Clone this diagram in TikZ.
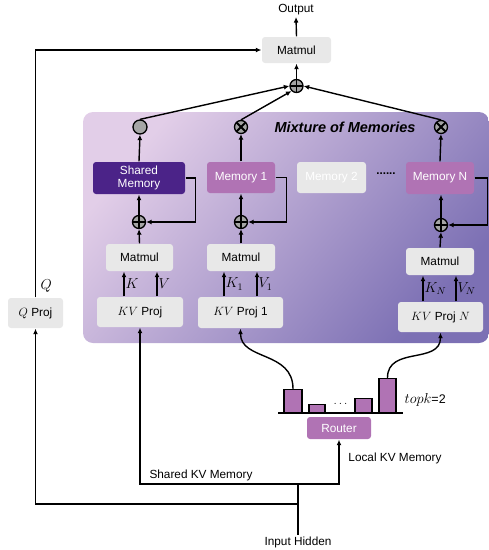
\documentclass[tikz,border=0pt]{standalone}
\usepackage{fontspec}
\setmainfont{Liberation Sans}
\usetikzlibrary{arrows.meta,calc}
\definecolor{boxgray}{RGB}{232,232,232}
\definecolor{orchidc}{RGB}{176,115,180}
\definecolor{darkpur}{RGB}{75,35,136}
\definecolor{panelA}{RGB}{226,206,232}
\definecolor{panelB}{RGB}{124,112,180}
\definecolor{circgray}{RGB}{165,165,165}
\newcommand{\mth}[1]{{\fontsize{12.5}{14}\selectfont$#1$}}
\newcommand{\mthb}[1]{{\fontsize{14.5}{16}\selectfont$#1$}}
\tikzset{
  arr/.style={-{Latex[length=5.5pt,width=5pt]}},
  gbox/.style={draw=none,fill=boxgray,rounded corners=3pt,inner sep=0pt,font=\fontsize{11.8}{13.5}\selectfont},
  pbox/.style={gbox,fill=orchidc,text=white},
  opl/.style={circle,draw,fill=circgray,line width=1.3pt,minimum size=13pt,inner sep=0pt,
    path picture={\draw[line width=1.8pt] (path picture bounding box.north) -- (path picture bounding box.south)
      (path picture bounding box.west) -- (path picture bounding box.east);}},
  otm/.style={circle,draw,fill=circgray,line width=1.3pt,minimum size=13pt,inner sep=0pt,
    path picture={\draw[line width=1.8pt] (path picture bounding box.north west) -- (path picture bounding box.south east)
      (path picture bounding box.south west) -- (path picture bounding box.north east);}},
  barbox/.style={draw,fill=orchidc,line width=1.2pt,minimum width=18pt,inner sep=0pt,anchor=south},
  lbl/.style={font=\fontsize{11.8}{13.5}\selectfont,inner sep=1pt},
}
\begin{document}
\begin{tikzpicture}[x=1pt,y=-1pt,line width=1.4pt]
\useasboundingbox (0,0) rectangle (489,550);
% panel
\shade[top color=panelA,bottom color=panelB,shading angle=50,rounded corners=10pt] (83,112) rectangle (489,343);

% top part
\node[lbl] (out) at (296,10) {Output};
\node[gbox,minimum width=69pt,minimum height=26pt] (mtop) at (296.5,50) {Matmul};
\node[opl] (pl0) at (296.5,86) {};
\draw[arr] (mtop.north) -- (out.south);
\draw[arr] (pl0.north) -- (mtop.south);

% mixture circles
\node[circle,draw,fill=circgray,line width=1.3pt,minimum size=14pt,inner sep=0pt] (cS) at (140,127) {};
\node[otm] (cx1) at (241,127) {};
\node[otm] (cxN) at (441,127) {};
\node[font=\fontsize{14.5}{16}\selectfont\bfseries\itshape] (mix) at (345,127) {Mixture of Memories};
\draw[arr] (cS.north) -- (pl0.west);
\draw[arr] (cx1.north) -- (pl0.south west);
\draw[arr] (cxN.north) -- (pl0.east);

% memories
\node[gbox,fill=darkpur,text=white,minimum width=92pt,minimum height=32pt,align=center] (memS) at (139,178) {Shared\\[-1pt]Memory};
\node[pbox,minimum width=68pt,minimum height=31pt] (mem1) at (241,177.5) {Memory 1};
\node[gbox,text=white,minimum width=69pt,minimum height=31pt] (mem2) at (331.5,177.5) {Memory 2};
\node[lbl,font=\fontsize{11.5}{13}\selectfont\bfseries] (dots) at (386,174) {......};
\node[pbox,minimum width=68pt,minimum height=32pt] (memN) at (440,178) {Memory N};
\draw[arr] (memS.north) -- (cS.south);
\draw[arr] (mem1.north) -- (cx1.south);
\draw[arr] (memN.north) -- (cxN.south);

% plus below memories
\node[opl] (pS) at (139,222) {};
\node[opl] (p1) at (241,222) {};
\node[opl] (pN) at (441,225) {};
\draw[arr] (pS.north) -- (pS.north |- memS.south);
\draw[arr] (p1.north) -- (p1.north |- mem1.south);
\draw[arr] (pN.north) -- (pN.north |- memN.south);
\draw[arr] (memS.east) -- ++(10,0) |- (pS.east);
\draw[arr] (mem1.east) -- ++(11,0) |- (p1.east);
\draw[arr] (memN.east) -- ++(13,0) |- (pN.east);

% matmuls
\node[gbox,minimum width=67pt,minimum height=27pt] (mmS) at (139.5,257.5) {Matmul};
\node[gbox,minimum width=68pt,minimum height=27pt] (mm1) at (241,257.5) {Matmul};
\node[gbox,minimum width=68pt,minimum height=27pt] (mmN) at (440,261.5) {Matmul};
\draw[arr] (mmS.north) -- (pS.south);
\draw[arr] (mm1.north) -- (p1.south);
\draw[arr] (mmN.north) -- (pN.south);

% KV projections
\node[gbox,minimum width=86pt,minimum height=30pt] (kvS) at (140,312) {\mth{KV} Proj};
\node[gbox,minimum width=85pt,minimum height=31pt] (kv1) at (240.5,312.5) {\mth{KV} Proj 1};
\node[gbox,minimum width=85pt,minimum height=30pt] (kvN) at (440.5,317) {\mth{KV} Proj \mth{N}};
\draw[arr] ([xshift=-16pt]kvS.north) -- ([xshift=-16pt]kvS.north |- mmS.south) node[lbl,midway,right] {\mthb{K}};
\draw[arr] ([xshift=17pt]kvS.north) -- ([xshift=17pt]kvS.north |- mmS.south) node[lbl,midway,right] {\mthb{V}};
\draw[arr] ([xshift=-16.5pt]kv1.north) -- ([xshift=-16.5pt]kv1.north |- mm1.south) node[lbl,midway,right] {\mthb{K_1}};
\draw[arr] ([xshift=16.5pt]kv1.north) -- ([xshift=16.5pt]kv1.north |- mm1.south) node[lbl,midway,right] {\mthb{V_1}};
\draw[arr] ([xshift=-17.5pt]kvN.north) -- ([xshift=-17.5pt]kvN.north |- mmN.south) node[lbl,midway,right] {\mthb{K_N}};
\draw[arr] ([xshift=15.5pt]kvN.north) -- ([xshift=15.5pt]kvN.north |- mmN.south) node[lbl,midway,right] {\mthb{V_N}};

% Q projection
\node[gbox,minimum width=55pt,minimum height=30pt] (qp) at (35.5,313) {\mth{Q} Proj};
\draw[arr] (qp.north) |- (mtop.west);
\node[lbl,anchor=west] (qlab) at (39,286) {\mthb{Q}};

% router and bars
\node[pbox,minimum width=64pt,minimum height=22pt] (router) at (339,428) {Router};
\coordinate (bl) at (278,413);
\coordinate (br) at (403,413);
\node[barbox,minimum height=23pt] (b1) at (293,413) {};
\node[barbox,minimum width=16pt,minimum height=8pt] (b2) at (317,413) {};
\node[barbox,minimum width=17pt,minimum height=14pt] (b3) at (363.5,413) {};
\node[barbox,minimum width=17pt,minimum height=34pt] (b4) at (387.5,413) {};
\draw (bl) -- (br);
\node[lbl] (bdots) at (340.5,404) {\mth{\dots}};
\node[lbl,anchor=west,font=\fontsize{12.5}{14}\selectfont] (topk) at (403,400) {\mthb{topk}=2};
\draw[arr] (b1.north) .. controls +(0,-38) and +(0,32) .. (kv1.south);
\draw[arr] (b4.north) .. controls +(0,-32) and +(0,32) .. (kvN.south);

% input
\node[lbl] (ih) at (298,542) {Input Hidden};
\coordinate (j1) at (298,484);
\coordinate (j2) at (298,504);
\draw (ih.north) -- (j1);
\draw[arr] (j1) -| (kvS.south);
\draw[arr] (j1) -| (router.south);
\draw[arr] (j2) -| (qp.south);
\node[lbl] (skv) at (201,475) {Shared KV Memory};
\node[lbl] (lkv) at (395,458) {Local KV Memory};
\end{tikzpicture}
\end{document}
